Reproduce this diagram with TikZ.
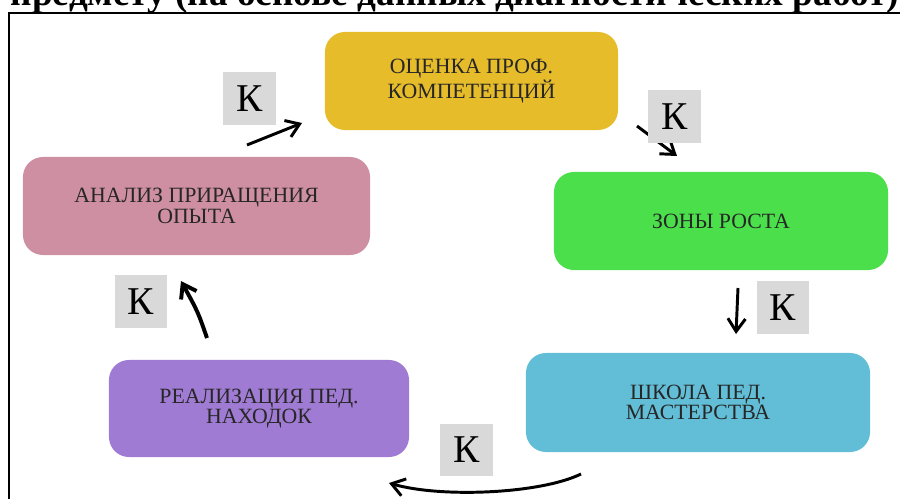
\documentclass[tikz,border=0pt]{standalone}
\usepackage{fontspec}
\setmainfont{Liberation Serif}
\usetikzlibrary{arrows.meta,calc}

\definecolor{ocenkacol}{RGB}{230,188,43}
\definecolor{analizcol}{RGB}{207,143,163}
\definecolor{zonycol}{RGB}{75,224,75}
\definecolor{shkolacol}{RGB}{98,189,214}
\definecolor{realizcol}{RGB}{160,123,211}
\definecolor{kgray}{RGB}{217,217,217}

\tikzset{
  stagebox/.style={rounded corners=0.5cm, align=center, inner sep=0pt,
    font=\fontsize{15.5}{14.5}\selectfont, text=black!85},
  kbox/.style={fill=kgray, minimum size=1.32cm, inner sep=0pt,
    font=\fontsize{28}{30}\selectfont},
  cyclearrow/.style={-{Straight Barb[length=3.2mm,width=4.4mm]}, line width=2.1pt},
}

\begin{document}
\begin{tikzpicture}[x=0.025cm,y=-0.025cm]
\useasboundingbox (0,0) rectangle (900,499);
%heading (cut off at the top)
\node[anchor=base, font=\bfseries\fontsize{26.5}{30}\selectfont] (head) at (455,6)
	{предмету (на основе данных диагностических работ)};
%frame
\draw[line width=1.5pt] (8.8,505) -- (8.8,12.8) -- (905,12.8);
%stages
\node[stagebox, fill=ocenkacol, minimum width=7.325cm, minimum height=2.45cm] (ocenka) at (471.5,81)
	{ОЦЕНКА ПРОФ.\\КОМПЕТЕНЦИЙ};
\node[stagebox, fill=zonycol, minimum width=8.35cm, minimum height=2.45cm] (zony) at (721,221)
	{ЗОНЫ РОСТА};
\node[stagebox, fill=shkolacol, minimum width=8.6cm, minimum height=2.475cm] (shkola) at (698,402.5)
	{ШКОЛА ПЕД.\\МАСТЕРСТВА};
\node[stagebox, fill=realizcol, minimum width=7.5cm, minimum height=2.425cm] (realiz) at (259,408.5)
	{РЕАЛИЗАЦИЯ ПЕД.\\НАХОДОК};
\node[stagebox, fill=analizcol, minimum width=8.675cm, minimum height=2.45cm] (analiz) at (196.5,206)
	{АНАЛИЗ ПРИРАЩЕНИЯ\\ОПЫТА};
%arrow ends
\coordinate (a1s) at (247,145);  \coordinate (a1e) at (302,123);
\coordinate (a2s) at (637,126);  \coordinate (a2e) at (677,156);
\coordinate (a3s) at (738,288);  \coordinate (a3e) at (736,334);
\coordinate (a4s) at (581,474);  \coordinate (a4e) at (389,483);
\coordinate (a5s) at (207,338);  \coordinate (a5e) at (181,281);
%arrows
\draw[cyclearrow] (a1s) -- (a1e);
\draw[cyclearrow] (a2s) -- (a2e);
\draw[cyclearrow] (a3s) -- (a3e);
\draw[cyclearrow] (a4s) .. controls (540,494) and (440,498) .. (a4e);
\draw[cyclearrow, line width=2.8pt] (a5s) .. controls (198,312) .. (a5e);
%K labels
\node[kbox] (k1) at (249.5,98.5) {К};
\node[kbox] (k2) at (674.5,116.5) {К};
\node[kbox] (k3) at (783,307.5) {К};
\node[kbox] (k4) at (466.5,450) {К};
\node[kbox] (k5) at (141,301.5) {К};
\end{tikzpicture}
\end{document}
